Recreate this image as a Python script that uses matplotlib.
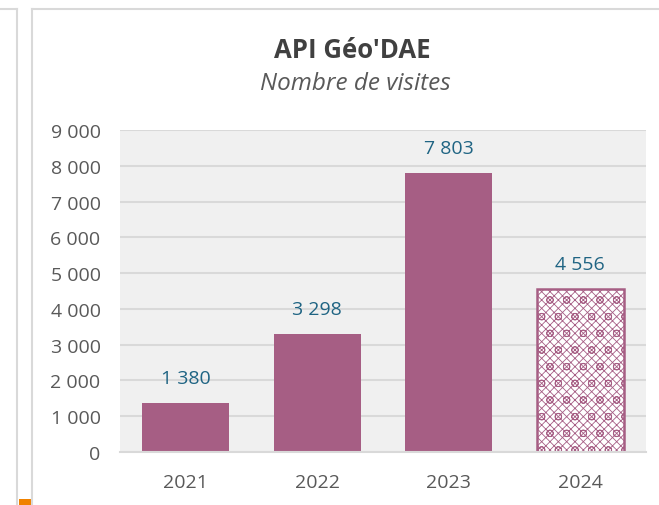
import matplotlib
matplotlib.use("Agg")
import matplotlib.pyplot as plt
from matplotlib.lines import Line2D
from matplotlib.patches import Rectangle
from matplotlib.ticker import FuncFormatter, MultipleLocator

years = ["2021", "2022", "2023", "2024"]
visits = [1380, 3298, 7803, 4556]
hatched = [False, False, False, True]

title = "API Géo'DAE"
subtitle = "Nombre de visites"

BAR = "#A65E84"
LABEL = "#1F6483"
TEXT = "#595959"
GRID = "#D9D9D9"

W, H = 659, 506
plt.rcParams["font.family"] = ["Open Sans", "DejaVu Sans"]
plt.rcParams["hatch.linewidth"] = 0.6

fig = plt.figure(figsize=(W / 100, H / 100), dpi=100)
fig.patch.set_facecolor("white")


def fx(px):
    return px / W


def fy(py):
    return 1 - py / H


# screenshot frame lines
for xs, ys in [((17, 17), (10, H)), ((0, 17), (10, 10)),
               ((32, 32), (10, H)), ((32, W), (10, 10))]:
    fig.add_artist(Line2D([fx(x) for x in xs], [fy(y) for y in ys],
                          color=GRID, lw=1.5))
fig.add_artist(Rectangle((fx(19), 0), fx(12), 6 / H, color="#F08200", lw=0))

ax = fig.add_axes([fx(120), fy(453), fx(646) - fx(120), fy(131) - fy(453)])
ax.set_facecolor("#F0F0F0")
ax.set_xlim(-0.5, len(years) - 0.5)
ax.set_ylim(0, 9000)
ax.yaxis.set_major_locator(MultipleLocator(1000))
ax.yaxis.set_major_formatter(FuncFormatter(lambda v, p: f"{int(v):,}".replace(",", " ")))
ax.grid(axis="y", color=GRID, lw=1.5)
ax.set_axisbelow(True)
for s in ["top", "right", "left"]:
    ax.spines[s].set_visible(False)
ax.spines["bottom"].set_color(GRID)
ax.spines["bottom"].set_linewidth(1.5)
ax.tick_params(length=0, labelsize=14, colors=TEXT)
ax.tick_params(axis="y", pad=14)
ax.tick_params(axis="x", pad=15)

xs = range(len(years))
for x, v, h in zip(xs, visits, hatched):
    if h:
        ax.bar(x, v, width=0.66, color="white", edgecolor=BAR, hatch="xxxxo",
               lw=1.8, zorder=2)
    else:
        ax.bar(x, v, width=0.66, color=BAR, zorder=2)
    ax.annotate(f"{v:,}".replace(",", " "), (x, v), xytext=(0, 18),
                textcoords="offset points", ha="center", va="center",
                fontsize=14, color=LABEL)
ax.set_xticks(list(xs))
ax.set_xticklabels(years)

fig.text(fx(352), fy(50), title, ha="center", va="center", fontsize=18.5,
         fontweight="bold", color="#404040")
fig.text(fx(355), fy(84), subtitle, ha="center", va="center", fontsize=17.5,
         style="italic", color=TEXT)

fig.savefig("out.png", dpi=100)
